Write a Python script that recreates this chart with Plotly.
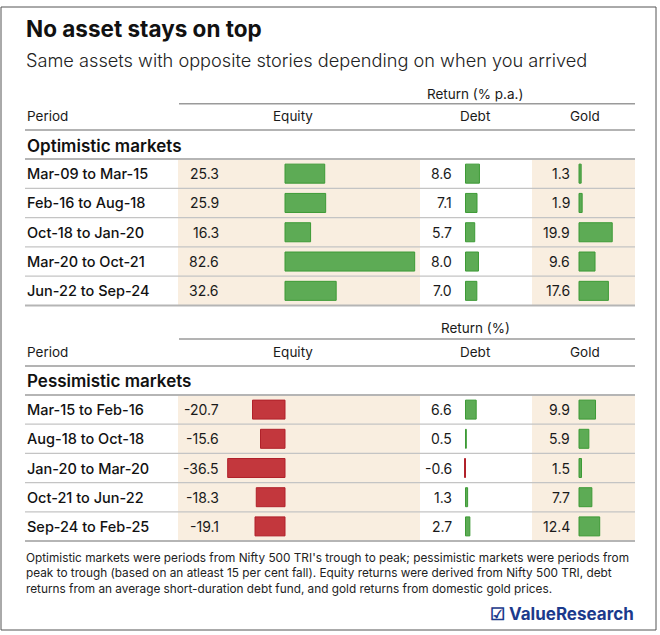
import plotly.graph_objects as go

W, H = 660, 635

title = "No asset stays on top"
subtitle = "Same assets with opposite stories depending on when you arrived"

opt_periods = ["Mar-09 to Mar-15", "Feb-16 to Aug-18", "Oct-18 to Jan-20",
               "Mar-20 to Oct-21", "Jun-22 to Sep-24"]
opt_equity = [25.3, 25.9, 16.3, 82.6, 32.6]
opt_debt = [8.6, 7.1, 5.7, 8.0, 7.0]
opt_gold = [1.3, 1.9, 19.9, 9.6, 17.6]

pes_periods = ["Mar-15 to Feb-16", "Aug-18 to Oct-18", "Jan-20 to Mar-20",
               "Oct-21 to Jun-22", "Sep-24 to Feb-25"]
pes_equity = [-20.7, -15.6, -36.5, -18.3, -19.1]
pes_debt = [6.6, 0.5, -0.6, 1.3, 2.7]
pes_gold = [9.9, 5.9, 1.5, 7.7, 12.4]

assets = ["Equity", "Debt", "Gold"]
footnote = ("Optimistic markets were periods from Nifty 500 TRI's trough to peak; pessimistic markets were periods from<br>"
            "peak to trough (based on an atleast 15 per cent fall). Equity returns were derived from Nifty 500 TRI, debt<br>"
            "returns from an average short-duration debt fund, and gold returns from domestic gold prices.")

FONT = "Inter"
GREEN, GREEN_LINE = "#5dab55", "#3d9a36"
RED, RED_LINE = "#c3373d", "#b0212a"
BEIGE = "#f9eee0"


def px(x):
    return x / W


def py(y):
    return 1 - y / H


fig = go.Figure()

# column layout in pixels: (left, right, zero position, px per unit, value text right edge)
cols = {
    "Equity": (178, 420, 285, 1.57, 221),
    "Debt": (420, 532, 465.5, 1.62, 454),
    "Gold": (532, 636, 579, 1.67, 572),
}
# sections: (top of first row, bottom of last row)
sections = [(159, 305.5), (395, 541)]

axis_names = {"Equity": "x", "Debt": "x2", "Gold": "x3"}
for i, (name, (l, r, z, s, _)) in enumerate(cols.items()):
    key = "xaxis" if i == 0 else f"xaxis{i + 1}"
    fig.layout[key] = dict(domain=[px(l), px(r)], range=[-(z - l) / s, (r - z) / s],
                           visible=False, fixedrange=True)
for j, (top, bot) in enumerate(sections):
    key = "yaxis" if j == 0 else "yaxis2"
    fig.layout[key] = dict(domain=[py(bot), py(top)], range=[4.5, -0.5], type="category",
                           visible=False, fixedrange=True)

blocks = [
    ("y", opt_periods, {"Equity": opt_equity, "Debt": opt_debt, "Gold": opt_gold}),
    ("y2", pes_periods, {"Equity": pes_equity, "Debt": pes_debt, "Gold": pes_gold}),
]

for yname, periods, vals in blocks:
    for name in assets:
        v = vals[name]
        fig.add_trace(go.Bar(
            x=v, y=periods, orientation="h", xaxis=axis_names[name], yaxis=yname,
            marker=dict(color=[GREEN if a >= 0 else RED for a in v],
                        line=dict(color=[GREEN_LINE if a >= 0 else RED_LINE for a in v], width=1)),
            hoverinfo="skip", showlegend=False,
        ))
        right_edge = cols[name][4]
        for p, a in zip(periods, v):
            fig.add_annotation(x=px(right_edge), xref="paper", y=p, yref=yname,
                               text=f"{a:.1f}", showarrow=False, xanchor="right",
                               font=dict(family=FONT, size=14, color="#1a1a1a"))
    for p in periods:
        fig.add_annotation(x=px(25), xref="paper", y=p, yref=yname, text=p, showarrow=False,
                           xanchor="left", font=dict(family=FONT, size=14.5, color="#111", weight=500))

fig.update_layout(bargap=0.35, barmode="overlay")

shapes = []
# outer frame
shapes.append(dict(type="rect", xref="paper", yref="paper", x0=px(1), x1=px(656), y0=py(630), y1=py(7),
                   line=dict(color="#555", width=1), layer="below"))
for top, bot in sections:
    for name in ["Equity", "Gold"]:
        l, r = cols[name][0], cols[name][1]
        shapes.append(dict(type="rect", xref="paper", yref="paper", x0=px(l), x1=px(min(r, 635)),
                           y0=py(bot), y1=py(top), fillcolor=BEIGE, line=dict(width=0), layer="below"))
    step = (bot - top) / 5
    for k in range(1, 5):
        yy = top + k * step
        shapes.append(dict(type="line", xref="paper", yref="paper", x0=px(25), x1=px(635),
                           y0=py(yy), y1=py(yy), line=dict(color="#c4c4c4", width=1.2)))
    for yy in (top, bot):
        shapes.append(dict(type="line", xref="paper", yref="paper", x0=px(25), x1=px(635),
                           y0=py(yy), y1=py(yy), line=dict(color="#b5b5b5", width=2)))

headers = [(103.7, 130, 94, 116, "Return (% p.a.)", 146, "Optimistic markets"),
           (339, 366, 328, 352, "Return (%)", 381, "Pessimistic markets")]
ann = []
for line1, line2, ty, hy, rtext, sy, stext in headers:
    shapes.append(dict(type="line", xref="paper", yref="paper", x0=px(179), x1=px(635),
                       y0=py(line1), y1=py(line1), line=dict(color="#9a9a9a", width=1.5)))
    shapes.append(dict(type="line", xref="paper", yref="paper", x0=px(25), x1=px(635),
                       y0=py(line2), y1=py(line2), line=dict(color="#9a9a9a", width=1.5)))
    ann.append(dict(x=px(475), y=py(ty), text=rtext, xanchor="center",
                    font=dict(family=FONT, size=13.5, color="#1a1a1a")))
    ann.append(dict(x=px(25), y=py(hy), text="Period", xanchor="left",
                    font=dict(family=FONT, size=13.5, color="#1a1a1a")))
    for name, cx in zip(assets, [293, 475, 585]):
        ann.append(dict(x=px(cx), y=py(hy), text=name, xanchor="center",
                        font=dict(family=FONT, size=13.5, color="#1a1a1a")))
    ann.append(dict(x=px(25), y=py(sy), text=stext, xanchor="left",
                    font=dict(family=FONT, size=17, color="#111", weight=600)))

ann.append(dict(x=px(24), y=py(29), text=title, xanchor="left",
                font=dict(family=FONT, size=22.5, color="#111", weight=700)))
ann.append(dict(x=px(24), y=py(60), text=subtitle, xanchor="left",
                font=dict(family=FONT, size=18.2, color="#222", weight=300)))
ann.append(dict(x=px(24), y=py(549), text=footnote, xanchor="left", yanchor="top", align="left",
                font=dict(family=FONT, size=11.8, color="#222")))
ann.append(dict(x=px(636), y=py(614), text="☑ ValueResearch", xanchor="right",
                font=dict(family=FONT, size=17, color="#1b3a8c", weight=700)))

for a in ann:
    a.setdefault("xref", "paper")
    a.setdefault("yref", "paper")
    a.setdefault("showarrow", False)
    a.setdefault("yanchor", "middle")
    fig.add_annotation(**a)

fig.update_layout(
    width=W, height=H,
    margin=dict(l=0, r=0, t=0, b=0),
    paper_bgcolor="white", plot_bgcolor="rgba(0,0,0,0)",
    shapes=shapes,
)

fig.write_html("out.html", config={"displayModeBar": False},
               post_script="document.body.style.margin='0';")
